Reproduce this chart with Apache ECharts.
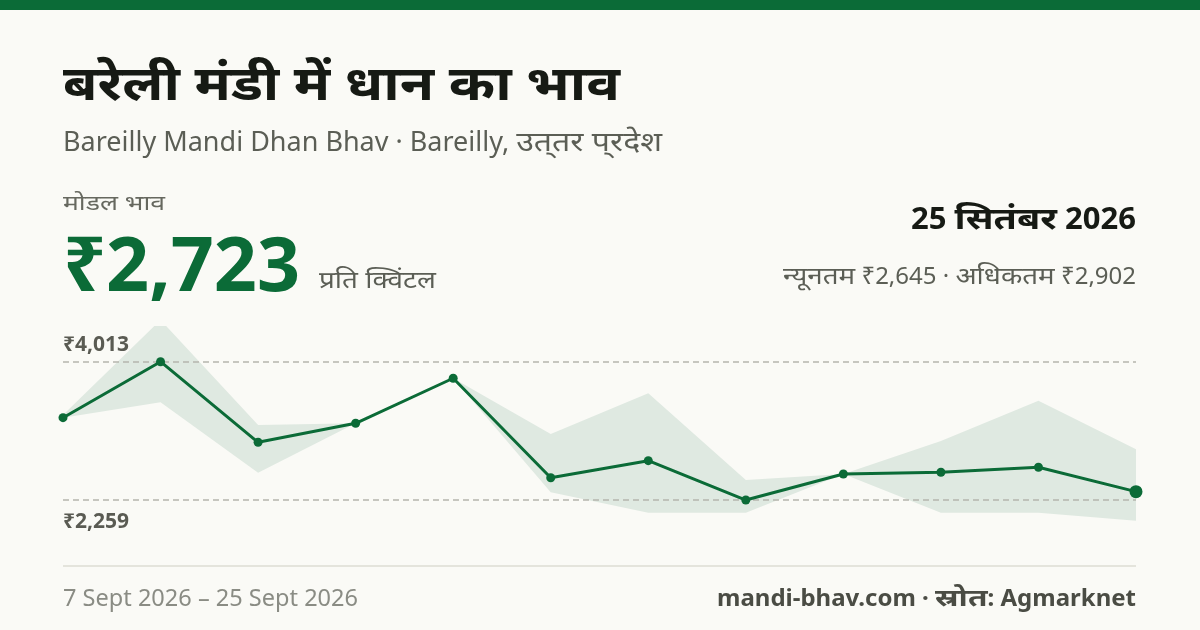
<!DOCTYPE html>
<html>
<head>
<meta charset="utf-8">
<script src="https://cdn.jsdelivr.net/npm/echarts@6/dist/echarts.min.js"></script>
<style>
  html, body { margin: 0; padding: 0; background: #fafaf6; }
  #chart { width: 1200px; height: 630px; }
</style>
</head>
<body>
<div id="chart"></div>
<script>
// 12 भाव बिंदु (तारीखें चित्र में नहीं दिखतीं)
var days = ['1', '2', '3', '4', '5', '6', '7', '8', '9', '10', '11', '12'];
var modalPrice = [3303, 4013, 2991, 3232, 3803, 2542, 2758, 2259, 2589, 2611, 2674, 2365];
var maxPrice   = [3337, 4542, 3210, 3232, 3803, 3096, 3612, 2513, 2589, 3007, 3518, 2902];
var minPrice   = [3303, 3498, 2606, 3232, 3803, 2357, 2098, 2098, 2589, 2098, 2098, 1997];
var guideLines = [4013, 2259];
var guideLabels = ['₹4,013', '₹2,259'];

var green = '#0b6b37';
var font = '"Noto Sans", sans-serif';

var bandDiff = [];
for (var i = 0; i < days.length; i++) {
    bandDiff.push(maxPrice[i] - minPrice[i]);
}

var lastIdx = modalPrice.length - 1;
var pointData = modalPrice.map(function (v, i) {
    return i === lastIdx ? { value: v, symbolSize: 13 } : v;
});

// text helper: देवनागरी हिस्सों को चौड़ा करके कुल चौड़ाई मिलाना
var ctx = document.createElement('canvas').getContext('2d');
function measure(t, f) {
    ctx.font = f;
    return ctx.measureText(t).width;
}
function textRun(parts, f, fill, left, y, totalW) {
    var latinW = 0, devW = 0;
    parts.forEach(function (p) {
        p.w = measure(p.t, f);
        if (p.dev) devW += p.w; else latinW += p.w;
    });
    var k = devW > 0 ? (totalW - latinW) / devW : 1;
    var kl = devW > 0 ? 1 : totalW / latinW;
    var out = [];
    var x = left;
    parts.forEach(function (p) {
        var s = p.dev ? k : kl;
        out.push({
            type: 'text', x: x, y: y, scaleX: s,
            style: { text: p.t, font: f, fill: fill, verticalAlign: 'middle' }
        });
        x += p.w * s;
    });
    return out;
}

var graphics = [
    { type: 'rect', shape: { x: 0, y: 0, width: 1200, height: 10 }, style: { fill: green } },
    { type: 'rect', shape: { x: 63, y: 565, width: 1073, height: 2 }, style: { fill: '#e4e4dc' } }
];
graphics = graphics
    .concat(textRun([{ t: 'बरेली मंडी में धान का भाव', dev: true }], 'bold 48px ' + font, '#161a14', 63, 86, 557))
    .concat(textRun([{ t: 'Bareilly Mandi Dhan Bhav · Bareilly, ' }, { t: 'उत्\u200Cतर प्\u200Cरदेश', dev: true }], '27px ' + font, '#5b5e55', 63, 143, 599))
    .concat(textRun([{ t: 'मोडल भाव', dev: true }], '21px ' + font, '#66685f', 63, 204, 102))
    .concat(textRun([{ t: '₹2,723' }], 'bold 75px ' + font, green, 63, 270, 237))
    .concat(textRun([{ t: 'प्रति क्विंटल', dev: true }], '24px ' + font, '#5b5e55', 319, 281, 117))
    .concat(textRun([{ t: '25 ' }, { t: 'सितंबर', dev: true }, { t: ' 2026' }], 'bold 31px ' + font, '#161a14', 911, 220, 225))
    .concat(textRun([{ t: 'न्यूनतम', dev: true }, { t: ' ₹2,645 · ' }, { t: 'अधिकतम', dev: true }, { t: ' ₹2,902' }], '24px ' + font, '#5b5e55', 783, 277, 353))
    .concat(textRun([{ t: '7 Sept 2026 – 25 Sept 2026' }], '23px ' + font, '#8a8c84', 63, 599, 295))
    .concat(textRun([{ t: 'mandi-bhav.com · ' }, { t: 'स्रोत', dev: true }, { t: ': Agmarknet' }], 'bold 24px ' + font, '#4a4c44', 717, 599, 419));

var myChart = echarts.init(document.getElementById('chart'));

var option = {
    backgroundColor: '#fafaf6',
    animation: false,
    grid: { left: 63, right: 64, top: 327, bottom: 90 },
    xAxis: {
        type: 'category',
        data: days,
        boundaryGap: false,
        show: false
    },
    yAxis: {
        type: 'value',
        min: 1752,
        max: 4453,
        show: false
    },
    series: [
        {
            name: 'min',
            type: 'line',
            data: minPrice,
            stack: 'band',
            symbol: 'none',
            lineStyle: { opacity: 0 },
            silent: true
        },
        {
            name: 'range',
            type: 'line',
            data: bandDiff,
            stack: 'band',
            symbol: 'none',
            lineStyle: { opacity: 0 },
            areaStyle: { color: '#dfe9e1', opacity: 1 },
            silent: true
        },
        {
            name: 'modal',
            type: 'line',
            data: pointData,
            symbol: 'circle',
            symbolSize: 9,
            showAllSymbol: true,
            lineStyle: { color: green, width: 3 },
            itemStyle: { color: green },
            z: 5,
            markLine: {
                silent: true,
                symbol: 'none',
                lineStyle: { color: '#b5b5ad', type: [6, 4], width: 1.5 },
                data: [
                    { yAxis: guideLines[0], label: { formatter: guideLabels[0], position: 'insideStartTop', distance: [0, 6] } },
                    { yAxis: guideLines[1], label: { formatter: guideLabels[1], position: 'insideStartBottom', distance: [0, 11] } }
                ],
                label: {
                    color: '#5a5b53',
                    fontFamily: font,
                    fontWeight: 'bold',
                    fontSize: 21
                }
            }
        }
    ],
    graphic: graphics
};

myChart.setOption(option);
</script>
</body>
</html>
